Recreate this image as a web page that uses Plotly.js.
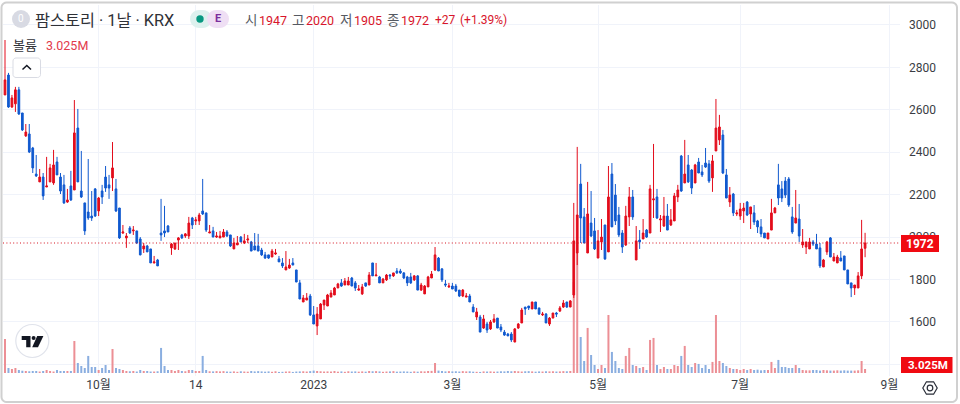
<!DOCTYPE html>
<html><head><meta charset="utf-8">
<script src="https://cdn.plot.ly/plotly-3.0.1.min.js"></script>
<style>html,body{margin:0;padding:0;background:#fff}#c{width:960px;height:404px}</style>
</head><body><div id="c"></div>
<script>
const openP = [
2670,2764,2613,2628,2694,2585,2477,2486,2420,2297,
2260,2283,2236,2260,2255,2354,2283,2246,2165,2241,
2222,2514,2217,2161,2118,2099,2227,2123,2217,2283,
2246,2279,2227,2137,2019,1996,2043,2029,2029,1991,
1944,1958,1944,1878,1892,2019,2029,2052,1949,1944,
1986,2010,2005,2005,2090,2076,2076,2123,2114,2019,
2029,2000,1996,2000,2024,2010,1944,1963,2000,1972,
1986,1977,1958,1958,1939,1916,1916,1906,1920,1897,
1878,1845,1854,1878,1845,1784,1694,1703,1722,1633,
1581,1614,1680,1675,1717,1727,1760,1784,1774,1774,
1807,1784,1750,1732,1784,1774,1878,1817,1812,1784,
1798,1821,1817,1840,1840,1831,1812,1812,1798,1817,
1750,1732,1765,1807,1845,1901,1850,1779,1765,1769,
1769,1750,1722,1717,1722,1670,1623,1623,1571,1590,
1567,1600,1618,1576,1552,1543,1543,1505,1571,1595,
1670,1675,1661,1694,1666,1633,1637,1590,1618,1642,
1651,1670,1694,1670,1727,1925,2250,2095,1925,2066,
2029,1901,1977,2057,1930,2297,2198,2104,2019,1963,
2095,2189,1892,1986,1991,2033,2019,2175,2189,2081,
2052,2099,2057,2076,2189,2382,2255,2340,2316,2255,
2354,2307,2349,2345,2279,2406,2458,2481,2293,2165,
2203,2109,2099,2123,2165,2109,2114,2076,2048,2019,
1991,2033,2114,2246,2227,2264,2274,2095,2066,2085,
1963,1953,1944,1977,1967,1949,1859,1930,1996,1887,
1878,1901,1911,1845,1784,1760,1760,1817,1947];
const highP = [
2929,2774,2670,2708,2708,2585,2533,2533,2425,2387,
2321,2302,2378,2345,2411,2378,2302,2293,2227,2312,
2646,2604,2406,2161,2368,2217,2231,2189,2246,2335,
2293,2448,2274,2137,2057,2019,2052,2052,2029,2000,
1972,1963,1944,1911,1897,2180,2147,2057,1972,1972,
2000,2015,2019,2095,2095,2095,2114,2274,2114,2057,
2048,2024,2029,2038,2033,2010,1996,2005,2005,2015,
2010,1982,2019,2015,1949,1930,1916,1944,1944,1911,
1901,1934,1897,1901,1845,1798,1727,1736,1732,1675,
1670,1689,1703,1732,1750,1765,1784,1802,1807,1812,
1812,1793,1774,1779,1784,1835,1878,1878,1817,1807,
1826,1826,1831,1854,1850,1835,1817,1831,1821,1821,
1784,1774,1817,1840,1953,1906,1854,1798,1784,1784,
1779,1750,1755,1736,1732,1684,1666,1633,1633,1600,
1609,1637,1618,1590,1562,1548,1552,1571,1595,1666,
1670,1675,1694,1694,1666,1647,1642,1623,1642,1647,
1675,1703,1694,1703,2161,2425,2345,2137,2260,2217,
2090,2033,2085,2057,2335,2349,2250,2142,2033,2147,
2236,2222,2052,2033,2085,2038,2246,2439,2227,2104,
2189,2156,2132,2208,2246,2387,2458,2387,2321,2345,
2373,2340,2420,2363,2387,2651,2576,2505,2321,2236,
2208,2128,2161,2161,2170,2142,2151,2081,2085,2019,
2019,2180,2142,2345,2264,2283,2283,2142,2222,2156,
2038,1977,1996,1986,2015,1972,1897,1982,2000,1925,
1916,1934,1911,1845,1784,1774,1835,2081,2020];
const lowP = [
2670,2609,2609,2590,2576,2500,2472,2396,2302,2283,
2260,2175,2236,2260,2246,2293,2203,2156,2161,2170,
2222,2260,2184,2010,2081,2076,2095,2099,2156,2213,
2180,2217,2118,1991,2015,1949,2015,2010,1967,1914,
1925,1930,1878,1876,1864,1982,2000,2024,1916,1939,
1939,1991,1996,1991,2038,2057,2057,2104,2024,2019,
2000,1996,1996,2000,2000,1953,1944,1963,1977,1967,
1972,1934,1939,1934,1911,1897,1897,1906,1916,1883,
1854,1845,1850,1868,1788,1708,1694,1703,1628,1590,
1538,1614,1656,1675,1717,1727,1760,1765,1774,1774,
1769,1746,1746,1727,1765,1774,1817,1817,1784,1784,
1793,1802,1812,1826,1826,1802,1769,1779,1793,1750,
1746,1732,1765,1807,1840,1840,1788,1765,1760,1755,
1741,1717,1717,1717,1694,1647,1609,1552,1567,1548,
1562,1595,1571,1552,1534,1534,1505,1505,1567,1595,
1633,1656,1661,1661,1633,1628,1595,1581,1618,1623,
1647,1666,1666,1670,1713,1868,1972,1972,1925,2000,
1939,1901,1939,1892,1930,2048,2057,2000,1925,1958,
2052,2081,1892,1944,1991,1996,2019,2090,2085,2024,
2048,2033,2052,2076,2165,2213,2255,2255,2203,2255,
2302,2283,2326,2255,2213,2406,2434,2297,2184,2142,
2099,2099,2081,2066,2099,2038,2057,2019,2000,1996,
1991,2033,2114,2151,2165,2184,2142,2015,2066,1977,
1949,1920,1944,1958,1944,1854,1859,1916,1906,1887,
1878,1887,1845,1779,1717,1727,1760,1802,1905];
const closeP = [
2741,2613,2656,2694,2580,2505,2495,2401,2326,2288,
2283,2194,2241,2326,2340,2293,2217,2161,2175,2175,
2491,2260,2189,2029,2090,2090,2099,2184,2189,2231,
2231,2326,2123,1996,2024,2005,2019,2033,1972,1916,
1958,1930,1878,1883,1864,2010,2019,2024,1967,1972,
1996,1996,2015,2066,2057,2081,2104,2109,2033,2024,
2000,2005,2005,2024,2005,1958,1972,1972,1977,1982,
1991,1934,1939,1934,1916,1901,1901,1934,1925,1883,
1864,1859,1868,1868,1788,1708,1713,1713,1633,1590,
1637,1684,1703,1727,1736,1760,1779,1769,1793,1793,
1769,1760,1755,1765,1769,1821,1817,1821,1784,1802,
1821,1817,1831,1831,1831,1807,1784,1784,1817,1750,
1774,1769,1812,1826,1916,1840,1798,1774,1769,1755,
1746,1722,1750,1722,1694,1647,1647,1552,1614,1562,
1600,1614,1571,1562,1538,1534,1515,1567,1590,1656,
1661,1666,1694,1661,1637,1637,1595,1618,1642,1637,
1666,1689,1670,1699,1982,2104,2090,1972,2109,2005,
1944,1982,2000,1897,2189,2048,2076,2010,1953,2099,
2189,2095,1982,1977,2019,2000,2227,2180,2090,2085,
2099,2033,2081,2194,2222,2217,2297,2260,2231,2340,
2302,2293,2330,2264,2359,2514,2519,2302,2184,2198,
2114,2114,2132,2137,2104,2142,2071,2048,2015,1996,
2019,2114,2137,2184,2184,2198,2151,2024,2090,2005,
1977,1977,1977,1967,1944,1864,1892,1977,1906,1906,
1906,1887,1845,1779,1760,1774,1817,1944,1972];
const volumeM = [
25.5,3.75,3,3.75,2.25,1.7,1.5,1.3,1.5,1.5,
1.1,1.5,2.25,1.5,1.1,2.25,1.5,1.5,1.5,1.5,
24,7.5,5.25,3.75,12.8,4.5,4.5,2.25,3.75,6,
2.25,18,3.75,3,2.25,1.5,1.3,1.5,1.1,2.25,
1.5,1.5,1.1,1.1,1.3,18.8,5.25,2.25,2.25,1.5,
2.25,1.5,1.3,2.25,2.25,1.5,1.5,12.8,2.25,1.3,
1.2,1.4,1.2,1.4,1.1,1,1.2,0.9,1.3,1.1,
1,1.5,1.2,1.4,1.2,1,1.2,0.9,1.3,0.8,
0.9,1.1,1.2,0.8,1.1,1.2,1.3,1.1,1.4,1.8,
1.5,1.3,1.1,1.2,1.1,1.5,1,1.2,0.9,1.3,
1.1,1.2,1,1.2,1,1.5,1.3,1.4,1.2,0.9,
1.1,1.2,1.4,1,1.1,1.2,1.1,0.9,1.2,1,
1.3,1.2,1.5,1.6,7.5,1.8,1.5,1.2,1.4,1.2,
1.3,1.1,1.4,1.2,1.3,1,0.9,0.8,1.2,1.1,
1.2,1,1.1,1.3,1.2,1.5,1.3,1.5,1.3,1.1,
1.3,1.4,1.2,1,1.2,1.1,1.3,1.2,1.3,1.1,
1.2,1.4,1.3,1.5,68.3,90,27,9,33.8,13.5,
6,3,6,3.75,43.5,15.8,9,3.75,3,12.8,
18.8,6,5.25,3.75,4.5,2.25,24.8,26.3,6,3,
4.5,3,3,6,5.25,12.8,20.3,6,4.5,7.5,
6.8,3.75,6,3,8.3,43.5,9,7.5,5.25,3.75,
3,3,2.25,3,2.25,3,2.25,2.5,2,2.25,
2.25,8.3,3.75,9.8,4.5,4.5,3.75,3.75,6,3.75,
2.25,2,2,2.25,2.25,1.8,2.25,2,1.8,1.8,
2,1.8,2,1.8,1.8,1.8,2,9,3.025];
const barIndex = openP.map((_, i) => i);
const xTickVals = [27, 55, 89, 129, 171, 212, 255];
const xTickText = ['10월', '14', '2023', '3월', '5월', '7월', '9월'];
const yTickVals = [1400, 1600, 1800, 2000, 2200, 2400, 2600, 2800, 3000];
const yTickText = ['', '1600', '1800', '2000', '2200', '2400', '2600', '2800', '3000'];
const lastPrice = 1972;
const lastPriceLabel = '1972';
const lastVolumeLabel = '3.025M';

const UP = '#e30d1c', DOWN = '#1059cf', UPV = '#ec8f95', DOWNV = '#8aaee0';
const FONT = "Roboto, 'Noto Sans CJK KR', sans-serif";
const L = 3, R = 900, T = 5, B = 376;
const px = x => (x - L) / (R - L), py = y => 1 - (y - T) / (B - T);
const pathOf = pts => pts.map((p, i) => (i ? 'L' : 'M') + px(p[0]) + ',' + py(p[1])).join(' ') + ' Z';
const rounded = (x0, y0, x1, y1, r) => {
  const c = []; const n = 5;
  const arc = (cx, cy, a0) => { for (let k = 0; k <= n; k++) { const a = a0 + k / n * Math.PI / 2; c.push([cx + r * Math.cos(a), cy + r * Math.sin(a)]); } };
  arc(x1 - r, y1 - r, 0); arc(x0 + r, y1 - r, Math.PI / 2); arc(x0 + r, y0 + r, Math.PI); arc(x1 - r, y0 + r, -Math.PI / 2);
  return pathOf(c);
};
const paper = {xref: 'paper', yref: 'paper'};
const circle = (cx, cy, r, fill, lineC, lw) => ({...paper, type: 'circle', x0: px(cx - r), x1: px(cx + r), y0: py(cy + r), y1: py(cy - r),
  fillcolor: fill, line: {color: lineC || fill, width: lw === undefined ? 0 : lw}, layer: 'above'});
const box = (x0, y0, x1, y1, fill) => ({...paper, type: 'rect', x0: px(x0), x1: px(x1), y0: py(y1), y1: py(y0), fillcolor: fill, line: {width: 0}, layer: 'above'});
const poly = (pts, fill, lineC, lw) => ({...paper, type: 'path', path: pathOf(pts), fillcolor: fill, line: {color: lineC || fill, width: lw || 0}, layer: 'above'});

const shapes = [
  {...paper, type: 'path', path: rounded(1.5, 2.5, 957, 402, 5), fillcolor: 'rgba(0,0,0,0)', line: {color: '#d0d0d0', width: 2}, layer: 'above'},
  {xref: 'paper', yref: 'y2', type: 'line', x0: 0, x1: 1, y0: lastPrice, y1: lastPrice, line: {color: '#d6131f', width: 1, dash: '1px,2.4px'}, layer: 'above'},
  box(901, 235, 939, 252, '#f00a12'),
  box(901, 357, 952.5, 373, '#f00a12'),
  circle(21, 19, 9, '#d8dae3'),
  {...paper, type: 'path', path: rounded(190, 10, 212, 28, 9), fillcolor: '#ddf1ee', line: {width: 0}, layer: 'above'},
  {...paper, type: 'path', path: rounded(207, 10, 229, 28, 9), fillcolor: '#efdff4', line: {width: 0}, layer: 'above'},
  circle(200, 19, 3.7, '#089981'),
  {...paper, type: 'path', path: rounded(13, 58, 40.5, 77.5, 3), fillcolor: '#ffffff', line: {color: '#d9dbe3', width: 1}, layer: 'above'},
  {...paper, type: 'path', path: 'M' + px(22.5) + ',' + py(69.5) + ' L' + px(26.8) + ',' + py(65.5) + ' L' + px(31) + ',' + py(69.5),
   fillcolor: 'rgba(0,0,0,0)', line: {color: '#131722', width: 1.5}, layer: 'above'},
  circle(32.3, 341, 16.5, '#ffffff', '#e0e3eb', 1.2),
  poly([[21.7,336],[30.5,336],[30.5,347.3],[26.2,347.3],[26.2,340],[21.7,340]], '#131722'),
  circle(33.6, 338, 2, '#131722'),
  poly([[37.2,336],[43.4,336],[38,347.3],[32.2,347.3]], '#131722'),
  poly([[922.8,388],[926.4,381.8],[933.6,381.8],[937.2,388],[933.6,394.2],[926.4,394.2]], 'rgba(0,0,0,0)', '#2a2e39', 1.2),
  circle(930, 388, 2.8, 'rgba(0,0,0,0)', '#2a2e39', 1.2),
];
const ann = (x, y, text, size, color, opts) => Object.assign({...paper, x: px(opts ? x : x - 2), y: py(y), text, showarrow: false,
  xanchor: 'left', yanchor: 'middle', font: {family: FONT, size, color}}, opts || {});
const RED = '#d8152b', INK = '#2f3137';
const annotations = [
  ann(21, 19, '0', 10, '#ffffff', {xanchor: 'center'}),
  ann(35, 20, '팜스토리 · 1날 · KRX', 16.3, INK),
  ann(218, 19, '<b>E</b>', 11, '#7b2f9d', {xanchor: 'center'}),
  ann(245, 20, '시', 13.5, '#555a62'), ann(259, 20, '1947', 12.5, RED),
  ann(292, 20, '고', 13.5, '#555a62'), ann(306, 20, '2020', 12.5, RED),
  ann(340, 20, '저', 13.5, '#555a62'), ann(354, 20, '1905', 12.5, RED),
  ann(387, 20, '종', 13.5, '#555a62'), ann(401, 20, '1972', 12.5, RED),
  ann(435, 20, '+27', 12, RED), ann(460, 20, '(+1.39%)', 12, RED),
  ann(13, 45, '볼륨', 13, INK), ann(46, 45, '3.025M', 12.5, '#e23a4b'),
  ann(920, 243.5, '<b>' + lastPriceLabel + '</b>', 12, '#ffffff', {xanchor: 'center'}),
  ann(928, 365, '<b>' + lastVolumeLabel + '</b>', 11.5, '#ffffff', {xanchor: 'center'}),
];

const traces = [
  {type: 'bar', x: barIndex, y: volumeM, width: 0.58, yaxis: 'y', xaxis: 'x', hoverinfo: 'skip',
   marker: {color: openP.map((o, i) => closeP[i] >= o ? UPV : DOWNV), line: {width: 0}}},
  {type: 'candlestick', x: barIndex, open: openP, high: highP, low: lowP, close: closeP, yaxis: 'y2', xaxis: 'x',
   increasing: {line: {color: UP, width: 1}, fillcolor: UP},
   decreasing: {line: {color: DOWN, width: 1}, fillcolor: DOWN}, whiskerwidth: 0, hoverinfo: 'skip'},
];
const layout = {
  width: 960, height: 404, showlegend: false, paper_bgcolor: '#ffffff', plot_bgcolor: '#ffffff',
  margin: {l: L, r: 960 - R, t: T, b: 404 - B, pad: 0},
  boxgap: 0.3,
  xaxis: {type: 'linear', range: [-0.577, 258.07], rangeslider: {visible: false}, tickmode: 'array', tickvals: xTickVals, ticktext: xTickText,
    showgrid: true, gridcolor: '#f0f3fa', gridwidth: 1, zeroline: false, showline: false, ticks: '', tickangle: 0,
    tickfont: {family: FONT, size: 12, color: '#3a3d44'}},
  yaxis: {range: [-2.25, 276], visible: false, showgrid: false, zeroline: false, fixedrange: true},
  yaxis2: {overlaying: 'y', side: 'right', range: [1345, 3094], tickmode: 'array', tickvals: yTickVals, ticktext: yTickText,
    showgrid: true, gridcolor: '#f0f3fa', gridwidth: 1, zeroline: false, showline: false, ticks: '', ticklabelstandoff: 8,
    tickfont: {family: FONT, size: 12, color: '#3a3d44'}},
  shapes, annotations,
};
Plotly.newPlot('c', traces, layout, {staticPlot: true, displayModeBar: false});
</script></body></html>
